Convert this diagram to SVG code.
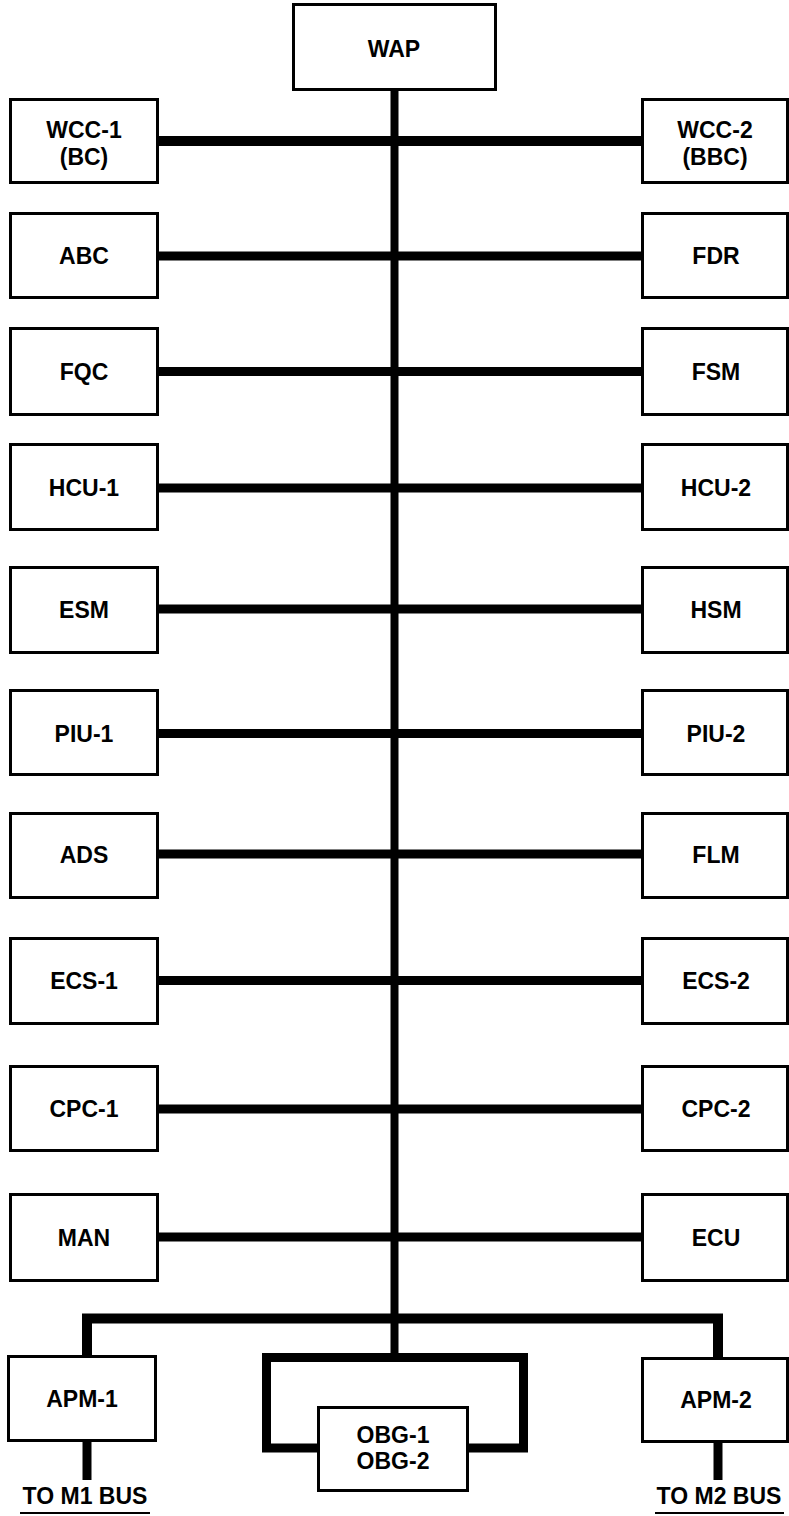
<svg xmlns="http://www.w3.org/2000/svg" width="789" height="1516" viewBox="0 0 789 1516">
<style>
.box{fill:#fff;stroke:#000;stroke-width:3}
.t{font-family:"Liberation Sans",Arial,Helvetica,sans-serif;font-weight:bold;font-size:23px;fill:#000;text-anchor:middle}
.c{fill:none;stroke:#000;stroke-width:9;stroke-linejoin:miter;stroke-linecap:butt}
.u{stroke:#000;stroke-width:2}
</style>
<rect width="789" height="1516" fill="#fff"/>
<g id="connectors">
<path class="c" d="M394.5 91 V1357.5" style="stroke-width:8"/>
<path class="c" d="M159 141 H641" style="stroke-width:10"/>
<path class="c" d="M159 256 H641"/>
<path class="c" d="M159 371.5 H641"/>
<path class="c" d="M159 488 H641"/>
<path class="c" d="M159 609 H641"/>
<path class="c" d="M159 733.5 H641"/>
<path class="c" d="M159 854 H641"/>
<path class="c" d="M159 980.5 H641"/>
<path class="c" d="M159 1109 H641"/>
<path class="c" d="M159 1237 H641"/>
<path class="c" d="M87 1355 V1318.5 H718 V1357" style="stroke-width:10"/>
<path class="c" d="M317 1448 H266.5 V1357.5 H523.5 V1448 H469"/>
<path class="c" d="M87 1442 V1480"/>
<path class="c" d="M718 1443 V1480"/>
</g>
<g id="WAP"><rect class="box" x="293.5" y="4.5" width="202" height="85"/><text class="t" x="394" y="57">WAP</text></g>
<g id="WCC-1"><rect class="box" x="10.5" y="99.5" width="147" height="83"/><text class="t" x="84" y="138">WCC-1</text><text class="t" x="84" y="165">(BC)</text></g>
<g id="WCC-2"><rect class="box" x="642.5" y="99.5" width="145" height="83"/><text class="t" x="715" y="138">WCC-2</text><text class="t" x="715" y="165">(BBC)</text></g>
<g id="ABC"><rect class="box" x="10.5" y="213.5" width="147" height="84"/><text class="t" x="84" y="264">ABC</text></g>
<g id="FDR"><rect class="box" x="642.5" y="213.5" width="145" height="84"/><text class="t" x="716" y="264">FDR</text></g>
<g id="FQC"><rect class="box" x="10.5" y="328.5" width="147" height="86"/><text class="t" x="84" y="380">FQC</text></g>
<g id="FSM"><rect class="box" x="642.5" y="328.5" width="145" height="86"/><text class="t" x="716" y="380">FSM</text></g>
<g id="HCU-1"><rect class="box" x="10.5" y="444.5" width="147" height="85"/><text class="t" x="84" y="496">HCU-1</text></g>
<g id="HCU-2"><rect class="box" x="642.5" y="444.5" width="145" height="85"/><text class="t" x="716" y="496">HCU-2</text></g>
<g id="ESM"><rect class="box" x="10.5" y="567.5" width="147" height="85"/><text class="t" x="84" y="618">ESM</text></g>
<g id="HSM"><rect class="box" x="642.5" y="567.5" width="145" height="85"/><text class="t" x="716" y="618">HSM</text></g>
<g id="PIU-1"><rect class="box" x="10.5" y="690.5" width="147" height="84"/><text class="t" x="84" y="742">PIU-1</text></g>
<g id="PIU-2"><rect class="box" x="642.5" y="690.5" width="145" height="84"/><text class="t" x="716" y="742">PIU-2</text></g>
<g id="ADS"><rect class="box" x="10.5" y="813.5" width="147" height="84"/><text class="t" x="84" y="863">ADS</text></g>
<g id="FLM"><rect class="box" x="642.5" y="813.5" width="145" height="84"/><text class="t" x="716" y="863">FLM</text></g>
<g id="ECS-1"><rect class="box" x="10.5" y="938.5" width="147" height="85"/><text class="t" x="84" y="989">ECS-1</text></g>
<g id="ECS-2"><rect class="box" x="642.5" y="938.5" width="145" height="85"/><text class="t" x="716" y="989">ECS-2</text></g>
<g id="CPC-1"><rect class="box" x="10.5" y="1066.5" width="147" height="84"/><text class="t" x="84" y="1117">CPC-1</text></g>
<g id="CPC-2"><rect class="box" x="642.5" y="1066.5" width="145" height="84"/><text class="t" x="716" y="1117">CPC-2</text></g>
<g id="MAN"><rect class="box" x="10.5" y="1194.5" width="147" height="86"/><text class="t" x="84" y="1246">MAN</text></g>
<g id="ECU"><rect class="box" x="642.5" y="1194.5" width="145" height="86"/><text class="t" x="716" y="1246">ECU</text></g>
<g id="APM-1"><rect class="box" x="8.5" y="1356.5" width="147" height="84"/><text class="t" x="82" y="1407">APM-1</text></g>
<g id="APM-2"><rect class="box" x="642.5" y="1358.5" width="145" height="83"/><text class="t" x="716" y="1408">APM-2</text></g>
<g id="OBG"><rect class="box" x="318.5" y="1407.5" width="149" height="83"/><text class="t" x="393" y="1443">OBG-1</text><text class="t" x="393" y="1469">OBG-2</text></g>
<g id="M1BUS"><text class="t" x="85" y="1504">TO M1 BUS</text><line class="u" x1="20" y1="1513" x2="150" y2="1513"/></g>
<g id="M2BUS"><text class="t" x="719" y="1504">TO M2 BUS</text><line class="u" x1="655" y1="1513" x2="784" y2="1513"/></g>
</svg>
